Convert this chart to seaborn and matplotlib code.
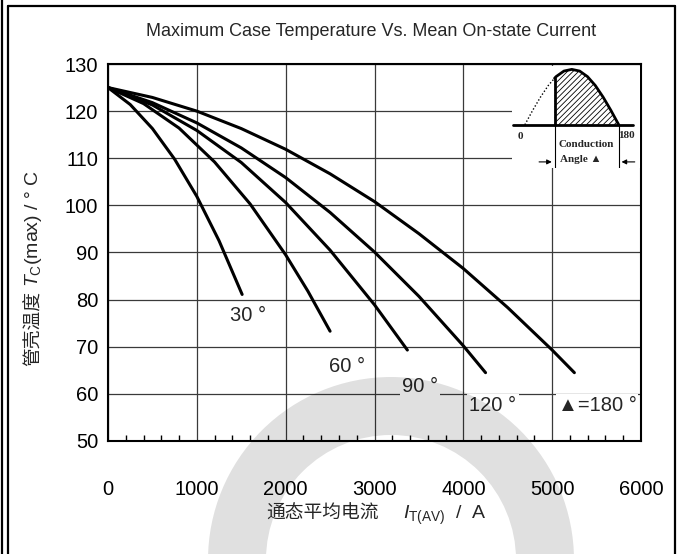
import matplotlib

matplotlib.use("Agg")

import matplotlib.pyplot as plt
import pandas as pd
import seaborn as sns
from matplotlib.lines import Line2D
from matplotlib.patches import Wedge
from matplotlib.transforms import IdentityTransform


# curves: mean on-state current (A) -> max case temperature (C)
CURRENT_30 = [0, 250, 500, 750, 1000, 1250, 1510]
TEMP_30 = [125, 121.4, 116.3, 109.8, 101.9, 92.5, 81.1]

CURRENT_60 = [0, 400, 800, 1200, 1600, 2000, 2250, 2500]
TEMP_60 = [125, 121.6, 116.4, 109.2, 100.3, 89.5, 81.8, 73.3]

CURRENT_90 = [0, 500, 1000, 1500, 2000, 2500, 3000, 3370]
TEMP_90 = [125, 121.3, 115.9, 109.1, 100.6, 90.5, 78.9, 69.3]

CURRENT_120 = [0, 500, 1000, 1500, 2000, 2500, 3000, 3500, 4000, 4250]
TEMP_120 = [125, 121.8, 117.5, 112.2, 105.9, 98.5, 90.1, 80.7, 70.2, 64.5]

CURRENT_180 = [0, 500, 1000, 1500, 2000, 2500, 3000, 3500, 4000, 4500, 5000, 5250]
TEMP_180 = [125, 122.9, 120.0, 116.3, 111.9, 106.7, 100.8, 94.0, 86.6, 78.3, 69.3, 64.5]

ANGLES = ["30", "60", "90", "120", "180"]
CURVE_LABELS = ["30 °", "60 °", "90 °", "120 °", "▲=180 °"]

X_TICKS = [0, 1000, 2000, 3000, 4000, 5000, 6000]
Y_TICKS = [50, 60, 70, 80, 90, 100, 110, 120, 130]

# inset waveform (electrical degrees -> relative amplitude)
WAVE_OFF_DEG = [0, 15, 30, 45, 57]
WAVE_OFF_AMP = [0, 0.26, 0.5, 0.71, 0.84]
WAVE_ON_DEG = [57, 60, 75, 90, 105, 120, 135, 150, 165, 180]
WAVE_ON_AMP = [0.84, 0.87, 0.97, 1.0, 0.97, 0.87, 0.71, 0.5, 0.26, 0]

W, H = 680, 554


def fx(px):
    return px / W


def fy(py):
    return 1 - py / H


sns.set_theme(style="white")
plt.rcParams["font.family"] = ["Liberation Sans Narrow", "Liberation Sans", "Noto Sans CJK SC", "DejaVu Sans"]
plt.rcParams["mathtext.fontset"] = "custom"
plt.rcParams["mathtext.rm"] = "Liberation Sans"
plt.rcParams["mathtext.it"] = "Liberation Sans:italic"
plt.rcParams["hatch.linewidth"] = 0.6

curves = [
    (CURRENT_30, TEMP_30),
    (CURRENT_60, TEMP_60),
    (CURRENT_90, TEMP_90),
    (CURRENT_120, TEMP_120),
    (CURRENT_180, TEMP_180),
]
frames = []
for angle, (cur, temp) in zip(ANGLES, curves):
    frames.append(pd.DataFrame({"current": cur, "temp": temp, "angle": angle}))
df = pd.concat(frames, ignore_index=True)

fig = plt.figure(figsize=(W / 100, H / 100), dpi=100)
ax = fig.add_axes([fx(108), fy(441), (641 - 108) / W, (441 - 64) / H])

sns.lineplot(
    data=df, x="current", y="temp", hue="angle", palette=["black"] * 5,
    sort=False, estimator=None, legend=False, linewidth=2.2, ax=ax, zorder=4,
)

ax.set_xlim(0, 6000)
ax.set_ylim(50, 130)
ax.set_xticks(X_TICKS)
ax.set_yticks(Y_TICKS)
ax.set_xticks(range(0, 6001, 200), minor=True)
ax.grid(True, which="major", color="#3a3a3a", linewidth=0.9)
ax.tick_params(axis="x", which="major", length=0, pad=28, labelsize=14.5, labelcolor="black")
ax.tick_params(axis="x", which="minor", direction="in", length=4, width=1, color="black", bottom=True)
ax.tick_params(axis="y", which="major", length=0, pad=7, labelsize=14.5, labelcolor="black")
for s in ax.spines.values():
    s.set_color("black")
    s.set_linewidth(1.5)
ax.set_xlabel("")
ax.set_ylabel("")

# curve labels with white boxes that break the grid
label_pos = [(1576, 76.7), (2690, 65.9), (3512, 61.5), (4334, 57.6), (5505, 57.6)]
for text, (lx, ly) in zip(CURVE_LABELS, label_pos):
    ax.text(lx, ly, text, ha="center", va="center", fontsize=14.5, zorder=5,
            bbox=dict(fc="white", ec="none", pad=1.5))

# inset: conduction angle sketch
ins = fig.add_axes([fx(512), fy(168), (639.5 - 512) / W, (168 - 65.5) / H], zorder=3)
ins.set_xlim(-24.6, 219.8)
ins.set_ylim(-0.78, 1.07)
ins.set_facecolor("white")
ins.set_xticks([])
ins.set_yticks([])
for s in ins.spines.values():
    s.set_visible(False)
ins.plot([-22.7, 208], [0, 0], color="black", lw=2)
sns.lineplot(x=WAVE_OFF_DEG, y=WAVE_OFF_AMP, ax=ins, color="black", lw=1, linestyle=(0, (1, 1.5)), sort=False)
sns.lineplot(x=WAVE_ON_DEG, y=WAVE_ON_AMP, ax=ins, color="black", lw=2, sort=False)
ins.fill_between(WAVE_ON_DEG, 0, WAVE_ON_AMP, facecolor="white", edgecolor="black", hatch="//////", lw=0)
ins.plot([57, 57], [0, WAVE_ON_AMP[0]], color="black", lw=2)
ins.plot([57, 57], [0, -0.78], color="black", lw=0.8)
ins.plot([180, 180], [0, -0.78], color="black", lw=0.8)
ins.annotate("", xy=(57, -0.67), xytext=(22, -0.67),
             arrowprops=dict(arrowstyle="-|>", color="black", lw=0.8, mutation_scale=7))
ins.annotate("", xy=(180, -0.67), xytext=(216, -0.67),
             arrowprops=dict(arrowstyle="-|>", color="black", lw=0.8, mutation_scale=7))
serif = ["Liberation Serif", "DejaVu Serif", "DejaVu Sans"]
ins.text(-9.5, -0.22, "0", ha="center", va="center", fontsize=8, weight="bold", family=serif)
ins.text(195, -0.2, "180", ha="center", va="center", fontsize=8, weight="bold", family=serif)
ins.text(118, -0.36, "Conduction", ha="center", va="center", fontsize=8, weight="bold", family=serif)
ins.text(108, -0.62, "Angle ▲", ha="center", va="center", fontsize=8, weight="bold", family=["Liberation Serif", "DejaVu Sans"])

# titles and axis labels (CJK part as plain text, symbol part as mathtext)
cjk = ["Noto Sans CJK SC", "DejaVu Sans"]
fig.text(fx(371), fy(31), "Maximum Case Temperature Vs. Mean On-state Current",
         ha="center", va="center", fontsize=13)
fig.text(fx(322), fy(513), "通态平均电流", ha="center", va="center", fontsize=13.5, family=cjk)
fig.text(fx(403), fy(515), "$I_{\\mathrm{T(AV)}}$  /  A", ha="left", va="center", fontsize=14)
fig.text(fx(33), fy(328), "管壳温度", ha="center", va="center", fontsize=13.5, rotation=90, family=cjk)
fig.text(fx(34), fy(287), "$T_{\\mathrm{C}}$(max) / ° C", ha="left", va="center",
         fontsize=14, rotation=90, rotation_mode="anchor")

# outer frame
for xs, ys in [
    ([2, 2], [0, H]),
    ([7.5, 7.5], [6, H]),
    ([7.5, 675], [6, 6]),
    ([675, 675], [6, H]),
]:
    fig.add_artist(Line2D([fx(v) for v in xs], [fy(v) for v in ys], transform=fig.transFigure,
                          color="black", lw=1.6))

# light watermark ring
ring = Wedge((391, H - 560), 183, 0, 180, width=58, transform=IdentityTransform(),
             facecolor="black", edgecolor="none", alpha=0.12)
fig.add_artist(ring)

fig.savefig("out.png", dpi=100)
